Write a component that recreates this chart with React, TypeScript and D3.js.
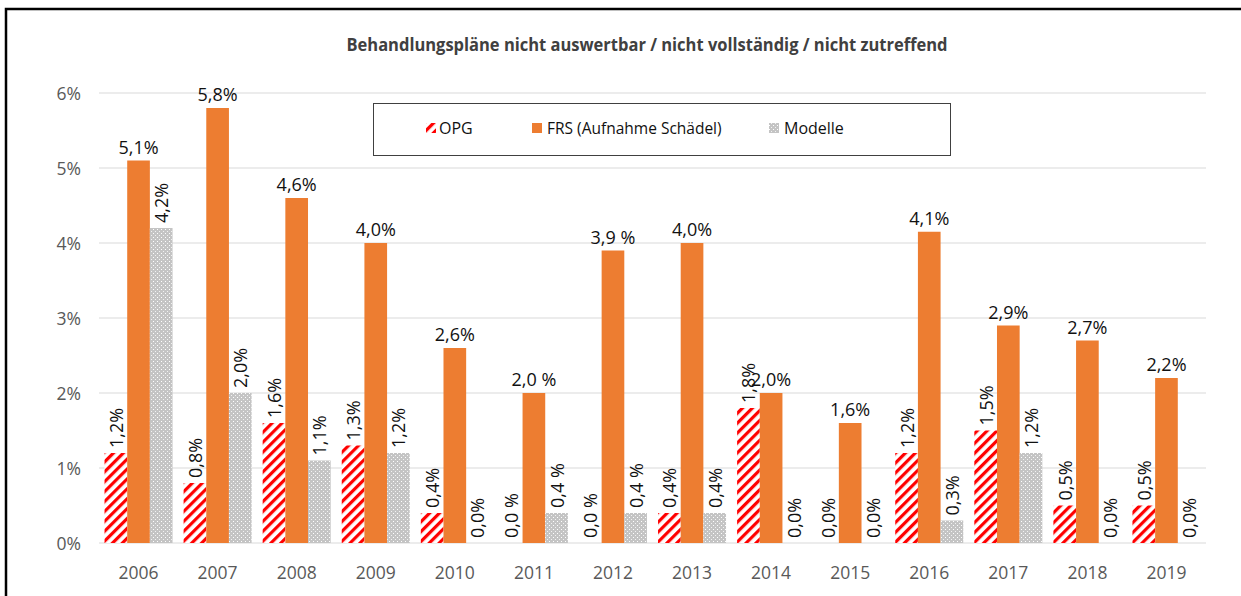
import React from "react";
import * as d3 from "d3";

const years = ["2006","2007","2008","2009","2010","2011","2012","2013","2014","2015","2016","2017","2018","2019"];
const opg = [1.2, 0.8, 1.6, 1.3, 0.4, 0.0, 0.0, 0.4, 1.8, 0.0, 1.2, 1.5, 0.5, 0.5];
const frs = [5.1, 5.8, 4.6, 4.0, 2.6, 2.0, 3.9, 4.0, 2.0, 1.6, 4.15, 2.9, 2.7, 2.2];
const modelle = [4.2, 2.0, 1.1, 1.2, 0.0, 0.4, 0.4, 0.4, 0.0, 0.0, 0.3, 1.2, 0.0, 0.0];
const opgLabels = ["1,2%","0,8%","1,6%","1,3%","0,4%","0,0 %","0,0 %","0,4%","1,8%","0,0%","1,2%","1,5%","0,5%","0,5%"];
const frsLabels = ["5,1%","5,8%","4,6%","4,0%","2,6%","2,0 %","3,9 %","4,0%","2,0%","1,6%","4,1%","2,9%","2,7%","2,2%"];
const modelleLabels = ["4,2%","2,0%","1,1%","1,2%","0,0%","0,4 %","0,4 %","0,4%","0,0%","0,0%","0,3%","1,2%","0,0%","0,0%"];
const yTicks = [0, 1, 2, 3, 4, 5, 6];
const seriesNames = ["OPG", "FRS (Aufnahme Schädel)", "Modelle"];
const title = "Behandlungspläne nicht auswertbar / nicht vollständig / nicht zutreffend";

const W = 1241, H = 596;
const FONT = "'Open Sans', 'DejaVu Sans', sans-serif";

export default function App() {
  const x0 = d3.scaleBand<string>().domain(years).range([99, 1206]).paddingInner(0).paddingOuter(0);
  const bw = x0.bandwidth();
  const groupW = 68;
  const x1 = d3.scaleBand<string>().domain(["opg", "frs", "mod"]).range([(bw - groupW) / 2, (bw + groupW) / 2]);
  const y = d3.scaleLinear().domain([0, 6]).range([543, 93]);
  const w1 = x1.bandwidth();

  const fills: Record<string, string> = { opg: "url(#stripes)", frs: "#ED7D31", mod: "url(#dots)" };
  const series = [
    { key: "opg", vals: opg, labels: opgLabels },
    { key: "frs", vals: frs, labels: frsLabels },
    { key: "mod", vals: modelle, labels: modelleLabels },
  ];

  return (
    <svg width={W} height={H} style={{ position: "absolute", left: 0, top: 0, background: "#fff" }}>
      <defs>
        <pattern id="stripes" patternUnits="userSpaceOnUse" width="7" height="7" patternTransform="rotate(45)">
          <rect width="7" height="7" fill="#fff" />
          <rect x="0" y="0" width="3.2" height="7" fill="#FF0000" />
        </pattern>
        <pattern id="dots" patternUnits="userSpaceOnUse" width="4" height="4">
          <rect width="4" height="4" fill="#C4C4C4" />
          <rect x="1" y="1" width="1" height="1" fill="#fff" />
          <rect x="3" y="3" width="1" height="1" fill="#f2f2f2" />
        </pattern>
      </defs>
      <rect x={0} y={0} width={W} height={H} fill="#fff" />
      {/* outer frame */}
      <path d={`M6,${H + 5} V9 H${W + 5}`} fill="none" stroke="#000" strokeWidth={2.5} />

      {/* title */}
      <text x={647} y={51} textAnchor="middle" fontFamily={FONT} fontWeight={700} fontSize={18}
        fill="#404040" textLength={601} lengthAdjust="spacingAndGlyphs">{title}</text>

      {/* gridlines */}
      {yTicks.map((t) => (
        <g key={t}>
          <line x1={99} x2={1206} y1={y(t)} y2={y(t)} stroke="#D9D9D9" strokeWidth={1} />
          <text x={81} y={y(t)} textAnchor="end" dominantBaseline="central" fontFamily={FONT} fontSize={17.5} fill="#595959">{`${t}%`}</text>
        </g>
      ))}

      {/* bars */}
      {series.map((s) => (
        <g key={s.key}>
          {years.map((yr, i) => {
            const bx = (x0(yr) as number) + (x1(s.key) as number);
            const top = y(s.vals[i]);
            return (
              <rect key={yr} x={bx} y={top} width={w1} height={y(0) - top} fill={fills[s.key]} />
            );
          })}
        </g>
      ))}

      {/* labels */}
      {series.map((s) => (
        <g key={s.key + "l"}>
          {years.map((yr, i) => {
            const cx = (x0(yr) as number) + (x1(s.key) as number) + w1 / 2;
            const top = y(s.vals[i]);
            if (s.key === "frs") {
              return (
                <text key={yr} x={cx} y={top - 7} textAnchor="middle" fontFamily={FONT} fontSize={18} fill="#111">{s.labels[i]}</text>
              );
            }
            return (
              <text key={yr} transform={`translate(${cx},${top - 5}) rotate(-90)`} textAnchor="start" dominantBaseline="central"
                fontFamily={FONT} fontSize={18} fill="#111">{s.labels[i]}</text>
            );
          })}
        </g>
      ))}

      {/* x axis labels */}
      {years.map((yr) => (
        <text key={yr} x={(x0(yr) as number) + bw / 2} y={572} textAnchor="middle" dominantBaseline="central"
          fontFamily={FONT} fontSize={17.5} fill="#595959">{yr}</text>
      ))}

      {/* legend */}
      <rect x={373.5} y={103.5} width={577} height={52} fill="#fff" stroke="#404040" strokeWidth={1} />
      <rect x={426} y={123} width={10} height={10} fill="url(#stripes)" />
      <text x={439} y={128} dominantBaseline="central" fontFamily={FONT} fontSize={16} fill="#111">{seriesNames[0]}</text>
      <rect x={532} y={123} width={10} height={10} fill="#ED7D31" />
      <text x={547} y={128} dominantBaseline="central" fontFamily={FONT} fontSize={15.5} fill="#111">{seriesNames[1]}</text>
      <rect x={769} y={123} width={10} height={10} fill="url(#dots)" />
      <text x={784} y={128} dominantBaseline="central" fontFamily={FONT} fontSize={16} fill="#111">{seriesNames[2]}</text>
    </svg>
  );
}
